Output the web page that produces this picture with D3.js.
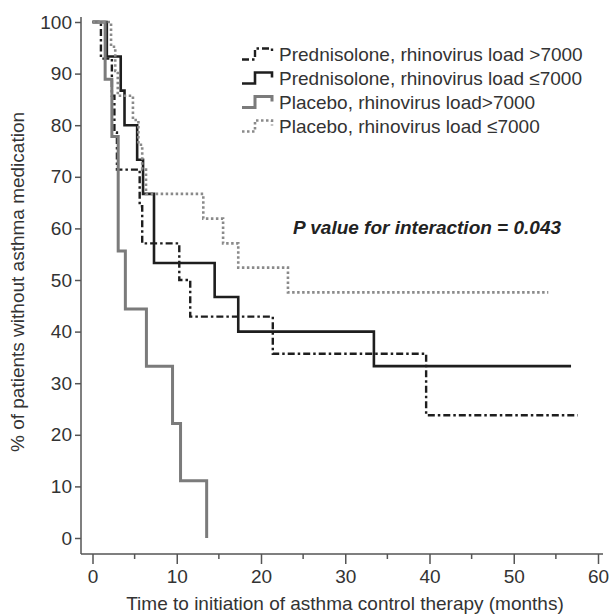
<!DOCTYPE html>
<html>
<head>
<meta charset="utf-8">
<script src="https://cdn.jsdelivr.net/npm/d3@7"></script>
<style>
  body { margin: 0; background: #fff; }
  svg { display: block; font-family: Arial, "Liberation Sans", sans-serif; }
  .axis path, .axis line { stroke: #555; stroke-width: 1.5; }
  .axis text { fill: #333; font-size: 19px; }
</style>
</head>
<body>
<div id="chart"></div>
<script>
var width = 610,
    height = 616;

// Kaplan-Meier steps (months, % without medication)
var predHighTime = [0, 1.0, 2.3, 2.6, 2.9, 5.6, 5.9, 10.3, 11.6, 21.4, 39.6, 57.6],
    predHighSurv = [100, 92.9, 85.7, 78.6, 71.4, 64.3, 57.1, 50.0, 42.9, 35.7, 23.8, 23.8];

var predLowTime = [0, 1.7, 3.35, 3.8, 5.3, 6.0, 7.3, 14.5, 17.3, 33.4, 56.8],
    predLowSurv = [100, 93.3, 86.7, 80.0, 73.3, 66.7, 53.3, 46.7, 40.0, 33.3, 33.3];

var placHighTime = [0, 1.5, 2.3, 3.05, 3.9, 6.4, 9.5, 10.45, 13.55],
    placHighSurv = [100, 88.9, 77.8, 55.6, 44.4, 33.3, 22.2, 11.1, 0];

var placLowTime = [0, 2.2, 2.7, 3.0, 4.8, 5.45, 5.9, 6.35, 13.15, 15.5, 17.3, 23.2, 54.1],
    placLowSurv = [100, 95.2, 90.5, 85.7, 81.0, 76.2, 71.4, 66.7, 61.9, 57.1, 52.4, 47.6, 47.6];

var legendLabels = [
  "Prednisolone, rhinovirus load >7000",
  "Prednisolone, rhinovirus load \u22647000",
  "Placebo, rhinovirus load>7000",
  "Placebo, rhinovirus load \u22647000"
];

var xTicks = [0, 10, 20, 30, 40, 50, 60],
    xMinorTicks = [5, 15, 25, 35, 45, 55],
    yTicks = [0, 10, 20, 30, 40, 50, 60, 70, 80, 90, 100];

var pText = "P value for interaction = 0.043",
    xTitle = "Time to initiation of asthma control therapy (months)",
    yTitle = "% of patients without asthma medication";

var series = [
  { time: predHighTime, surv: predHighSurv, color: "#1e1e1e", width: 2.4, dash: "7,3,2.5,3" },
  { time: predLowTime, surv: predLowSurv, color: "#1e1e1e", width: 2.6, dash: null },
  { time: placHighTime, surv: placHighSurv, color: "#7b7b7b", width: 3, dash: null },
  { time: placLowTime, surv: placLowSurv, color: "#8a8a8a", width: 2.6, dash: "2.5,2.5" }
];

var x = d3.scaleLinear().domain([0, 60]).range([92.5, 598]),
    y = d3.scaleLinear().domain([0, 100]).range([538, 22]);

var svg = d3.select("#chart").append("svg")
    .attr("width", width)
    .attr("height", height);

// axes
var axisY = 81, axisX = 554;

var gy = svg.append("g")
    .attr("class", "axis")
    .attr("transform", "translate(" + axisY + ",0)")
    .call(d3.axisLeft(y).tickValues(yTicks).tickSize(6).tickPadding(3).tickSizeOuter(0));
gy.select(".domain").remove();
gy.append("line").attr("y1", 17).attr("y2", axisX);

var gx = svg.append("g")
    .attr("class", "axis")
    .attr("transform", "translate(0," + axisX + ")")
    .call(d3.axisBottom(x).tickValues(xTicks).tickSize(10).tickPadding(6).tickSizeOuter(0));
gx.select(".domain").remove();
gx.append("line").attr("x1", axisY).attr("x2", 603);
gx.selectAll(".minor")
    .data(xMinorTicks)
  .enter().append("line")
    .attr("class", "minor")
    .attr("x1", function(d) { return x(d); })
    .attr("x2", function(d) { return x(d); })
    .attr("y2", 5);

svg.append("text")
    .attr("x", 345)
    .attr("y", 610)
    .attr("text-anchor", "middle")
    .style("font-size", "19px")
    .style("fill", "#333")
    .text(xTitle);

svg.append("text")
    .attr("transform", "translate(24,282) rotate(-90)")
    .attr("text-anchor", "middle")
    .style("font-size", "19px")
    .style("fill", "#333")
    .text(yTitle);

// curves
var line = d3.line()
    .x(function(d) { return x(d[0]); })
    .y(function(d) { return y(d[1]); })
    .curve(d3.curveStepAfter);

svg.append("g").selectAll("path")
    .data(series)
  .enter().append("path")
    .attr("d", function(s) { return line(d3.zip(s.time, s.surv)); })
    .attr("fill", "none")
    .attr("stroke", function(s) { return s.color; })
    .attr("stroke-width", function(s) { return s.width; })
    .attr("stroke-dasharray", function(s) { return s.dash; });

// legend
var legend = svg.append("g").selectAll("g")
    .data(series)
  .enter().append("g")
    .attr("transform", function(s, i) { return "translate(242," + (54.5 + i * 24) + ")"; });

legend.append("path")
    .attr("d", "M0,5H13V-6H30V-1")
    .attr("fill", "none")
    .attr("stroke", function(s) { return s.color; })
    .attr("stroke-width", function(s) { return s.width; })
    .attr("stroke-dasharray", function(s) { return s.dash; });

legend.append("text")
    .attr("x", 37)
    .attr("dy", "0.35em")
    .style("font-size", "19px")
    .style("fill", "#333")
    .text(function(s, i) { return legendLabels[i]; });

svg.append("text")
    .attr("x", 293)
    .attr("y", 234)
    .style("font-size", "19px")
    .style("font-weight", "bold")
    .style("font-style", "italic")
    .style("fill", "#222")
    .text(pText);
</script>
</body>
</html>
